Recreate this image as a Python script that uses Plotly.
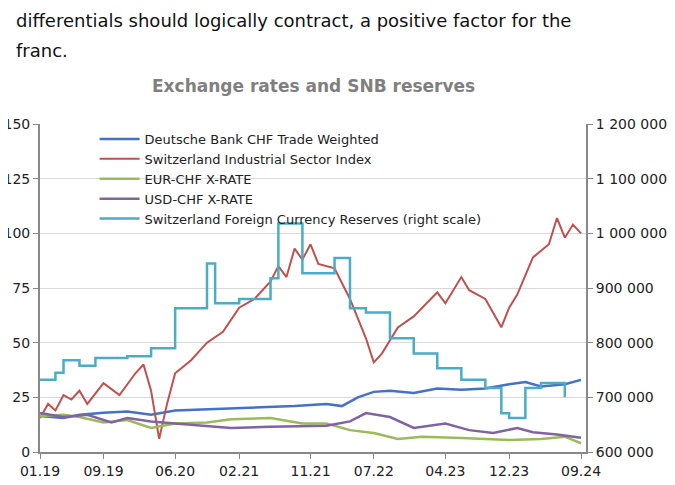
import plotly.graph_objects as go

# dates and series (left scale 0-150, right scale in CHF)
db_dates = ["2019-01", "2019-04", "2019-06", "2019-09", "2019-12", "2020-03", "2020-06", "2020-10",
            "2021-01", "2021-05", "2021-09", "2022-01", "2022-03", "2022-05", "2022-07", "2022-09",
            "2022-12", "2023-03", "2023-06", "2023-09", "2023-12", "2024-02", "2024-04", "2024-07",
            "2024-09"]
db_vals = [16.5, 15.5, 17, 18, 18.5, 17, 19, 19.5, 20, 20.5, 21, 22, 21, 25, 27.5, 28,
           27, 29, 28.5, 29, 31, 32, 30, 31, 33]

red_dates = ["2019-01", "2019-02", "2019-03", "2019-04", "2019-05", "2019-06", "2019-07", "2019-08",
             "2019-09", "2019-11", "2020-01", "2020-02", "2020-03", "2020-04", "2020-05", "2020-06",
             "2020-08", "2020-10", "2020-12", "2021-02", "2021-04", "2021-06", "2021-07", "2021-08",
             "2021-09", "2021-10", "2021-11", "2021-12", "2022-02", "2022-04", "2022-06", "2022-07",
             "2022-08", "2022-10", "2022-12", "2023-03", "2023-04", "2023-06", "2023-07", "2023-09",
             "2023-11", "2023-12", "2024-01", "2024-03", "2024-05", "2024-06", "2024-07", "2024-08",
             "2024-09"]
red_vals = [15.5, 22, 19, 26, 24, 28, 22, 27, 31.5, 26, 36, 40, 28, 6, 22, 36,
            42, 50, 55, 66, 70, 78, 85, 80, 93, 88, 95, 86, 84, 70, 52, 41,
            45, 57, 62, 73, 68, 80, 74, 70, 57, 66, 72, 89, 95, 107, 98, 104,
            100]

eur_dates = ["2019-01", "2019-04", "2019-06", "2019-09", "2019-12", "2020-03", "2020-06", "2020-10",
             "2021-01", "2021-06", "2021-10", "2022-01", "2022-04", "2022-07", "2022-10", "2023-01",
             "2023-06", "2023-10", "2023-12", "2024-04", "2024-07", "2024-09"]
eur_vals = [16.5, 17, 16, 13.5, 14.6, 11, 13, 13.5, 15, 15.5, 13, 13, 10, 8.7, 6, 7,
            6.4, 6, 5.5, 6, 7, 4]

usd_dates = ["2019-01", "2019-04", "2019-07", "2019-10", "2019-12", "2020-03", "2020-06", "2020-10",
             "2021-01", "2021-06", "2022-01", "2022-04", "2022-06", "2022-09", "2022-12", "2023-04",
             "2023-07", "2023-10", "2024-01", "2024-03", "2024-06", "2024-09"]
usd_vals = [17.8, 16, 17, 13.5, 15.5, 14, 13, 12, 11, 11.5, 12, 14, 17.8, 16, 11, 13,
            10, 8.7, 11, 9, 8, 6.5]

res_dates = ["2019-01", "2019-03", "2019-04", "2019-06", "2019-08", "2019-12", "2020-03", "2020-06",
             "2020-10", "2020-11", "2021-02", "2021-06", "2021-07", "2021-09", "2021-10", "2022-02",
             "2022-04", "2022-06", "2022-09", "2022-12", "2023-03", "2023-06", "2023-09", "2023-11",
             "2023-12", "2024-02", "2024-04", "2024-07"]
res_vals = [732000, 745000, 768000, 758000, 772000, 775000, 790000, 863000,
            945000, 872000, 880000, 918000, 1018000, 1018000, 927000, 955000,
            863000, 855000, 808000, 780000, 753000, 732000, 717000, 671000,
            662000, 717000, 726000, 700000]

tick_dates = ["2019-01-01", "2019-09-01", "2020-06-01", "2021-02-01", "2021-11-01",
              "2022-07-01", "2023-04-01", "2023-12-01", "2024-09-01"]
tick_text = ["01.19", "09.19", "06.20", "02.21", "11.21", "07.22", "04.23", "12.23", "09.24"]
left_ticks = [0, 25, 50, 75, 100, 125, 150]
right_ticks = [600000, 700000, 800000, 900000, 1000000, 1100000, 1200000]

fig = go.Figure()
fig.add_trace(go.Scatter(x=db_dates, y=db_vals, name="Deutsche Bank CHF Trade Weighted", mode="lines",
                         line=dict(color="#4472C4", width=2.5)))
fig.add_trace(go.Scatter(x=red_dates, y=red_vals, name="Switzerland Industrial Sector Index", mode="lines",
                         line=dict(color="#C0504D", width=2)))
fig.add_trace(go.Scatter(x=eur_dates, y=eur_vals, name="EUR-CHF X-RATE", mode="lines",
                         line=dict(color="#9BBB59", width=2.5)))
fig.add_trace(go.Scatter(x=usd_dates, y=usd_vals, name="USD-CHF X-RATE", mode="lines",
                         line=dict(color="#8064A2", width=2.5)))
fig.add_trace(go.Scatter(x=res_dates, y=res_vals, name="Switzerland Foreign Currency Reserves (right scale)",
                         mode="lines", line=dict(color="#4BACC6", width=2.5, shape="hv"), yaxis="y2"))

fig.update_layout(
    width=675, height=485,
    margin=dict(l=26, r=97, t=116, b=41),
    paper_bgcolor="white", plot_bgcolor="white",
    font=dict(family="DejaVu Sans", size=13, color="#222"),
    legend=dict(x=0.1, y=1.0, xanchor="left", yanchor="top", bgcolor="rgba(0,0,0,0)",
                font=dict(size=13), tracegroupgap=0, itemwidth=40),
    xaxis=dict(range=["2019-01-01", "2024-09-20"], tickvals=tick_dates, ticktext=tick_text,
               showgrid=False, showline=True, linecolor="#888", linewidth=2,
               ticks="outside", tickcolor="#888", tickfont=dict(size=14)),
    yaxis=dict(range=[0, 150], tickvals=left_ticks, showgrid=True, gridcolor="#d9d9d9",
               showline=True, linecolor="#888", linewidth=2, ticks="outside", tickcolor="#888",
               tickfont=dict(size=14), zeroline=False, automargin=False),
    yaxis2=dict(range=[600000, 1200000], tickvals=right_ticks,
                ticktext=[f"{v:,}".replace(",", " ") for v in right_ticks],
                overlaying="y", side="right", showgrid=False, showline=True,
                linecolor="#888", linewidth=2, ticks="outside", tickcolor="#888",
                tickfont=dict(size=14), zeroline=False),
    annotations=[
        dict(text="differentials should logically contract, a positive factor for the",
             x=-26 / 552, y=1 + 116 / 328, xref="paper", yref="paper", xanchor="left", yanchor="top",
             showarrow=False, font=dict(size=18, color="#111")),
        dict(text="franc.", x=-26 / 552, y=1 + 86 / 328, xref="paper", yref="paper", xanchor="left",
             yanchor="top", showarrow=False, font=dict(size=18, color="#111")),
        dict(text="<b>Exchange rates and SNB reserves</b>", x=0.5, y=1 + 38 / 328, xref="paper",
             yref="paper", xanchor="center", yanchor="middle", showarrow=False,
             font=dict(size=17, color="#7f7f7f")),
    ],
)
fig.write_html("out.html")
